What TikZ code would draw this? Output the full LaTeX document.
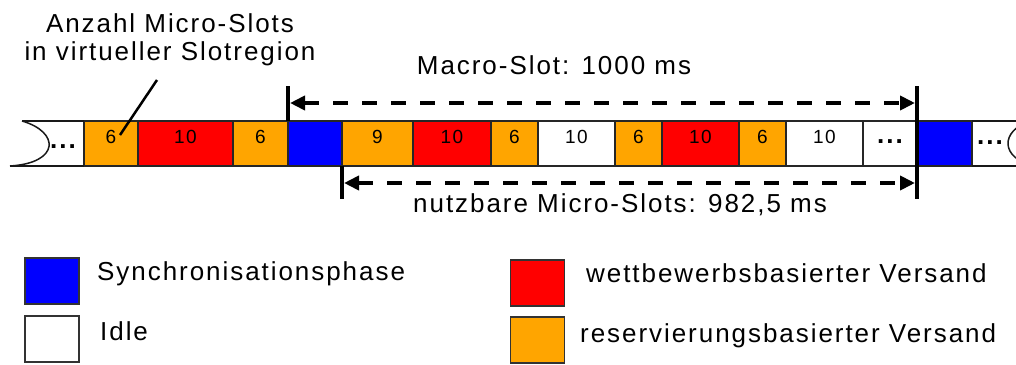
\documentclass[tikz,border=0pt]{standalone}
\usepackage{fontspec}
\setmainfont{Liberation Sans}[LetterSpace=7.5]
\usepackage{xcolor}
\usepackage{tikz}
\usetikzlibrary{positioning, arrows.meta}

\definecolor{syncblau}{RGB}{0,0,255}
\definecolor{wettrot}{RGB}{255,0,0}
\definecolor{reservorange}{RGB}{255,165,0}
\newcommand{\grosstext}{\fontsize{26}{28}\selectfont}
\newcommand{\slottext}{\fontsize{19}{21}\selectfont}

\tikzstyle{slot} = [rectangle, draw=black!85, line width=1.5pt, outer sep=0pt, inner sep=0pt, minimum height=45pt, text height=10pt, text depth=10pt, font=\slottext]
\tikzstyle{sync} = [slot, fill=syncblau]
\tikzstyle{wett} = [slot, fill=wettrot]
\tikzstyle{reserv} = [slot, fill=reservorange]
\tikzstyle{frei} = [slot, fill=white]
\tikzstyle{rand} = [line width=1.5pt, black!90]
\tikzstyle{marke} = [line width=3.5pt]
\tikzstyle{massp} = [line width=4pt, dash pattern=on 15pt off 14pt, arrows={Triangle[length=15pt,width=14pt]-Triangle[length=15pt,width=14pt]}]
\tikzstyle{legende} = [rectangle, draw=black!80, line width=1.5pt, minimum width=54pt, minimum height=46pt]

\begin{document}
\begin{tikzpicture}[x=1pt, y=-1pt, inner sep=0pt, font=\grosstext]
    \useasboundingbox (0,0) rectangle (1016,364);
    \clip (0,0) rectangle (1016,364);

    %% Slotleiste
    \node (o1) [reserv, minimum width=54pt] at (111,143.5) {6};
    \node (r1) [wett, minimum width=95pt, right=0pt of o1] {10};
    \node (o2) [reserv, minimum width=55pt, right=0pt of r1] {6};
    \node (b1) [sync, minimum width=54pt, right=0pt of o2] {};
    \node (o3) [reserv, minimum width=71pt, right=0pt of b1] {9};
    \node (r2) [wett, minimum width=78pt, right=0pt of o3] {10};
    \node (o4) [reserv, minimum width=47pt, right=0pt of r2] {6};
    \node (w1) [frei, minimum width=77pt, right=0pt of o4] {10};
    \node (o5) [reserv, minimum width=47pt, right=0pt of w1] {6};
    \node (r3) [wett, minimum width=77pt, right=0pt of o5] {10};
    \node (o6) [reserv, minimum width=47pt, right=0pt of r3] {6};
    \node (w2) [frei, minimum width=77pt, right=0pt of o6] {10};
    \node (w3) [frei, minimum width=54pt, right=0pt of w2, font=\grosstext\bfseries] {...};
    \node (b2) [sync, minimum width=55pt, right=0pt of w3] {};

    %% offenes Ende links
    \coordinate (linksO) at (22,121);
    \coordinate (linksU) at (10,166);
    \draw[rand] (linksO) -- (o1.north west);
    \draw[rand] (linksU) -- (o1.south west);
    \draw[rand] (linksO) .. controls (60,132) and (60,163) .. (linksU);
    \node (punkteL) [anchor=base, font=\grosstext\bfseries] at (63,148) {...};

    %% offenes Ende rechts
    \coordinate (rechtsO) at (1030,121);
    \coordinate (rechtsU) at (1034,166);
    \draw[rand] (b2.north east) -- (rechtsO);
    \draw[rand] (b2.south east) -- (rechtsU);
    \draw[rand] (rechtsO) .. controls (1000,131) and (1000,158) .. (rechtsU);
    \node (punkteR) [anchor=base, font=\grosstext\bfseries] at (990,144) {...};

    %% Macro-Slot
    \coordinate (macroA) at (288,86);
    \coordinate (macroE) at (917,86);
    \coordinate (nutzE) at (917,199);
    \draw[marke] (macroA) -- (b1.north west);
    \draw[marke] (macroE) -- (nutzE);
    \coordinate (macroL) at (290,103);
    \coordinate (macroR) at (915,103);
    \draw[massp] (macroL) -- (macroR);
    \node (macro) [anchor=base] at (554,74) {Macro-Slot: 1000 ms};

    %% nutzbare Micro-Slots
    \coordinate (nutzA) at (342,199);
    \draw[marke] (o3.south west) -- (nutzA);
    \coordinate (nutzL) at (344,183);
    \coordinate (nutzR) at (915,183);
    \draw[massp] (nutzL) -- (nutzR);
    \node (nutz) [anchor=base] at (620,212) {nutzbare Micro-Slots: 982,5 ms};

    %% Anzahl Micro-Slots
    \node (anzahl) [anchor=base, align=center] at (170,60) {Anzahl Micro-Slots\\in virtueller Slotregion};
    \coordinate (zeigerA) at (120,135);
    \coordinate (zeigerB) at (157,80);
    \draw[line width=2.5pt] (zeigerA) -- (zeigerB);

    %% Legende
    \node (lsync) [legende, fill=syncblau] at (52,281) {};
    \node (tsync) [anchor=base west] at (97,280) {Synchronisationsphase};
    \node (lidle) [legende, fill=white] at (52,339) {};
    \node (tidle) [anchor=base west] at (100,340) {Idle};
    \node (lwett) [legende, fill=wettrot] at (537.5,283) {};
    \node (twett) [anchor=base west] at (586,282) {wettbewerbsbasierter Versand};
    \node (lres) [legende, fill=reservorange] at (537.5,340) {};
    \node (tres) [anchor=base west] at (580,342) {reservierungsbasierter Versand};
\end{tikzpicture}
\end{document}
